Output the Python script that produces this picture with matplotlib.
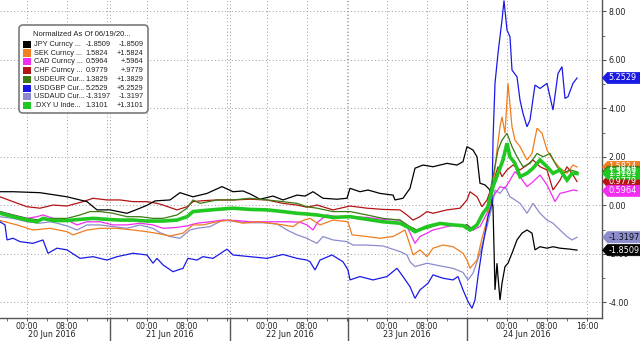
"""Bloomberg-style normalized currency chart, 19-24 Jun 2016 (Brexit vote week)."""
import matplotlib
matplotlib.use("Agg")
import matplotlib.pyplot as plt
from matplotlib import transforms
from matplotlib.patches import FancyBboxPatch, Polygon, Rectangle
from matplotlib.ticker import FixedLocator, FuncFormatter, MultipleLocator

# --- data: hours since 20 Jun 2016 00:00, normalized values -------------------
jpy_h = [-5.4, -2.8, 2.6, 8.0, 12.0, 14.0, 16.6, 20.0, 22.0, 24.0, 25.6, 28.6, 30.6, 33.2,
         36.0, 39.0, 41.2, 43.2, 44.6, 46.6, 49.2, 51.2, 54.0, 55.6, 57.2, 59.2, 62.0, 64.0,
         64.6, 66.6, 68.2, 70.6, 73.2, 73.6, 75.2, 76.6, 77.6, 79.2, 81.2, 84.0, 86.0, 87.2,
         88.0, 89.2, 90.0, 90.6, 91.6, 92.6, 93.2, 93.6, 94.0, 94.2, 94.6, 95.0, 95.6, 96.2,
         97.0, 98.0, 99.0, 100.0, 101.0, 101.6, 102.6, 104.0, 105.2, 106.6, 108.6, 110.0]
jpy_v = [0.56, 0.56, 0.52, 0.35, 0.15, -0.19, -0.19, -0.33, -0.17, 0.00, 0.18, 0.22, 0.52, 0.35,
         0.49, 0.77, 0.56, 0.59, 0.47, 0.25, 0.38, 0.22, 0.42, 0.38, 0.56, 0.29, 0.25, 0.29,
         0.70, 0.56, 0.63, 0.49, 0.42, 0.22, 0.29, 0.70, 1.53, 1.66, 1.59, 1.73, 1.66, 1.80,
         2.42, 2.28, 2.00, 0.91, 0.84, 0.63, -0.06, -3.49, -2.39, -2.94, -3.91, -3.22, -2.53, -2.39,
         -1.98, -1.43, -1.15, -1.02, -1.15, -1.84, -1.71, -1.77, -1.71, -1.77, -1.81, -1.85]

sek_h = [-5.4, -2.0, 1.2, 4.6, 8.0, 9.2, 12.0, 14.6, 18.0, 21.2, 24.0, 26.6, 28.6, 31.2,
         33.2, 35.2, 38.0, 40.6, 43.2, 46.0, 48.6, 51.2, 53.2, 54.6, 55.6, 56.6, 58.6, 61.2,
         64.2, 65.0, 68.0, 70.6, 73.2, 75.6, 76.6, 77.2, 78.6, 80.0, 81.2, 83.2, 85.2, 87.2,
         88.0, 88.6, 90.0, 91.0, 92.0, 93.2, 94.0, 94.6, 95.0, 95.6, 96.2, 97.0, 97.6, 98.6,
         100.0, 101.0, 102.0, 103.0, 104.0, 105.2, 106.6, 108.0, 109.2, 110.0]
sek_v = [-0.63, -0.81, -1.02, -0.95, -1.09, -1.22, -1.02, -0.95, -0.95, -1.02, -1.09, -1.18, -1.27, -1.15,
         -0.81, -0.81, -0.68, -0.61, -0.74, -0.68, -0.74, -0.81, -0.88, -0.68, -0.60, -0.54, -0.81, -0.61,
         -0.68, -1.22, -1.29, -1.36, -1.29, -1.02, -1.64, -2.05, -1.84, -2.12, -1.77, -1.64, -1.71, -1.98,
         -2.26, -2.60, -2.26, -1.36, -0.61, 0.77, 2.28, 3.24, 3.65, 2.97, 5.03, 3.24, 2.69, 2.42,
         1.87, 2.14, 3.18, 2.97, 2.28, 1.87, 1.53, 1.32, 1.66, 1.58]

cad_h = [-5.4, -2.8, 0.0, 2.0, 3.2, 5.2, 8.0, 10.0, 12.0, 14.6, 17.2, 20.0, 22.6, 25.2,
         27.2, 30.0, 32.0, 34.0, 36.6, 39.2, 42.0, 44.6, 47.2, 50.0, 52.6, 54.6, 56.0, 57.2,
         58.2, 60.0, 62.0, 64.6, 68.0, 71.2, 74.6, 76.0, 77.6, 78.6, 80.0, 81.2, 84.0, 86.0,
         87.2, 88.0, 89.2, 90.6, 92.0, 93.2, 94.6, 95.6, 96.6, 97.6, 98.6, 100.0, 101.2, 102.6,
         104.0, 105.6, 106.6, 108.0, 109.2, 110.0]
cad_v = [-0.26, -0.40, -0.54, -0.47, -0.40, -0.54, -0.61, -0.81, -0.68, -0.68, -0.81, -0.81, -0.74, -0.81,
         -0.95, -0.91, -0.85, -0.74, -0.68, -0.61, -0.63, -0.68, -0.68, -0.68, -0.68, -0.70, -0.81, -1.02,
         -0.68, -0.40, -0.47, -0.47, -0.50, -0.58, -0.61, -0.88, -1.57, -1.29, -1.15, -1.02, -0.88, -0.81,
         -0.88, -0.80, -1.02, -0.88, -0.33, 0.35, 0.77, 0.70, 1.04, 1.39, 1.18, 0.77, 0.97, 1.25,
         0.84, 0.15, 0.49, 0.56, 0.63, 0.60]

chf_h = [-5.4, -2.8, 0.0, 2.6, 5.2, 8.0, 11.2, 13.2, 16.0, 18.6, 21.2, 24.0, 26.0, 27.2,
         30.0, 32.0, 33.2, 35.2, 38.0, 41.2, 44.6, 48.0, 51.2, 54.0, 56.0, 58.0, 61.2, 64.6,
         68.0, 71.2, 74.6, 76.0, 77.2, 78.6, 80.0, 81.2, 84.0, 86.6, 88.0, 88.6, 90.0, 91.0,
         92.0, 93.2, 94.2, 95.0, 96.0, 97.2, 98.6, 100.0, 101.2, 102.6, 104.0, 105.2, 106.6, 108.0,
         109.2, 110.0]
chf_v = [0.35, 0.15, -0.06, -0.12, 0.01, -0.03, 0.15, 0.29, 0.22, 0.22, 0.15, 0.15, 0.08, 0.01,
         -0.19, -0.06, 0.15, 0.19, 0.22, 0.22, 0.25, 0.22, 0.08, 0.01, -0.08, 0.01, -0.19, -0.03,
         -0.12, -0.17, -0.19, -0.40, -0.61, -0.47, -0.26, -0.33, -0.19, -0.12, 0.22, 0.56, 0.35, -0.06,
         0.22, 0.91, 1.59, 1.18, 1.46, 1.66, 1.46, 1.66, 1.87, 1.59, 1.46, 0.63, 1.04, 1.59,
         1.25, 0.98]

eur_h = [-5.4, -2.8, 0.0, 2.6, 5.2, 8.0, 10.6, 12.6, 14.6, 17.2, 20.0, 22.6, 25.2, 27.2,
         30.0, 32.0, 33.2, 34.6, 38.0, 41.2, 44.6, 48.0, 51.2, 54.0, 56.0, 58.0, 61.2, 64.6,
         68.0, 71.2, 74.6, 76.6, 78.0, 80.0, 82.6, 85.2, 86.6, 88.0, 89.2, 90.6, 92.0, 93.2,
         94.2, 95.0, 96.0, 97.0, 98.0, 99.2, 100.6, 102.0, 103.2, 104.6, 106.0, 107.2, 108.6, 110.0]
eur_v = [-0.26, -0.40, -0.54, -0.61, -0.54, -0.54, -0.40, -0.26, -0.26, -0.33, -0.47, -0.47, -0.54, -0.54,
         -0.40, -0.12, 0.22, 0.08, 0.22, 0.22, 0.29, 0.22, 0.15, 0.08, -0.06, -0.12, -0.26, -0.26,
         -0.40, -0.54, -0.61, -0.88, -1.02, -0.95, -0.78, -0.81, -0.88, -0.80, -1.02, -0.61, -0.06, 1.18,
         2.28, 2.69, 2.97, 2.42, 2.00, 1.59, 1.73, 2.14, 2.00, 2.14, 1.59, 1.32, 1.46, 1.38]

gbp_h = [-5.4, -4.4, -4.0, -2.8, -1.4, 1.2, 3.2, 4.2, 6.0, 8.0, 10.6, 13.2, 16.0, 18.0,
         21.2, 24.0, 25.2, 26.0, 27.2, 29.2, 31.2, 32.2, 34.0, 35.2, 37.2, 40.0, 41.2, 44.6,
         48.0, 51.2, 54.0, 56.0, 56.6, 57.6, 58.6, 61.0, 63.2, 64.2, 64.6, 66.6, 69.2, 72.0,
         74.0, 75.2, 76.6, 77.6, 78.6, 80.2, 81.2, 83.2, 85.2, 86.2, 87.2, 88.2, 89.0, 89.6,
         90.2, 91.0, 91.6, 92.2, 93.0, 93.2, 93.6, 94.2, 95.0, 95.4, 96.0, 96.6, 97.0, 98.0,
         98.6, 99.2, 100.0, 100.6, 101.6, 102.6, 104.0, 105.2, 106.2, 107.0, 107.6, 108.2, 109.2, 110.0]
gbp_v = [-0.68, -0.81, -1.43, -1.36, -1.50, -1.57, -1.43, -1.98, -1.77, -1.84, -2.19, -2.12, -2.26, -2.12,
         -1.98, -2.05, -2.39, -2.19, -2.46, -2.74, -2.60, -2.19, -2.26, -2.12, -2.19, -1.81, -2.05, -2.12,
         -2.19, -2.03, -2.19, -2.26, -2.33, -2.67, -2.26, -2.05, -2.33, -2.67, -3.08, -2.94, -3.08, -2.94,
         -2.60, -2.94, -3.36, -3.84, -3.49, -3.22, -2.87, -3.01, -3.08, -2.94, -3.49, -3.97, -4.25, -3.91,
         -2.94, -1.84, -1.15, -0.47, 0.08, 2.69, 5.03, 6.27, 7.64, 8.45, 7.23, 6.95, 5.58, 5.30,
         4.34, 3.79, 3.24, 3.52, 4.96, 4.82, 5.03, 3.93, 5.44, 5.72, 4.41, 4.48, 5.03, 5.25]

aud_h = [-5.4, -2.8, 0.0, 2.6, 4.6, 6.0, 8.0, 10.0, 12.0, 14.6, 17.2, 20.0, 22.6, 25.2,
         26.6, 28.6, 30.6, 32.6, 34.0, 36.6, 39.2, 42.0, 44.6, 47.2, 50.0, 52.0, 54.0, 56.0,
         56.6, 58.0, 59.2, 61.2, 64.0, 65.2, 68.0, 71.2, 74.6, 76.0, 76.6, 77.6, 80.0, 82.6,
         85.2, 87.2, 88.2, 89.2, 90.6, 92.0, 93.0, 93.6, 94.6, 95.6, 96.6, 97.6, 98.6, 100.0,
         101.2, 102.6, 104.0, 105.2, 106.6, 108.0, 109.0, 110.0]
aud_v = [-0.47, -0.54, -0.68, -0.74, -0.68, -0.74, -0.85, -1.02, -0.81, -0.81, -0.88, -0.95, -0.81, -0.95,
         -1.13, -1.29, -1.36, -1.02, -0.95, -0.88, -0.61, -0.68, -0.72, -0.72, -0.77, -1.02, -1.22, -1.36,
         -1.43, -1.57, -1.29, -1.43, -1.50, -1.64, -1.64, -1.68, -1.91, -2.05, -2.33, -2.53, -2.39, -2.50,
         -2.60, -2.77, -3.08, -2.80, -1.98, -0.88, -0.06, 0.63, 0.49, 0.77, 0.35, 0.22, 0.08, -0.33,
         0.08, -0.33, -0.61, -0.74, -1.02, -1.29, -1.43, -1.32]

dxy_h = [-5.4, -2.8, 0.0, 2.0, 3.2, 5.2, 8.0, 10.6, 13.2, 16.0, 18.6, 21.2, 24.0, 27.2,
         30.0, 32.0, 33.2, 35.2, 38.0, 41.2, 44.6, 48.0, 51.2, 54.0, 56.0, 58.0, 61.2, 64.6,
         68.0, 71.2, 74.6, 76.6, 77.6, 80.0, 82.6, 85.2, 87.2, 88.6, 90.0, 91.2, 92.2, 93.2,
         94.2, 95.2, 96.0, 96.6, 97.6, 98.6, 100.0, 101.2, 102.6, 104.0, 105.2, 106.6, 108.0, 109.0, 110.0]
dxy_v = [-0.33, -0.47, -0.61, -0.68, -0.54, -0.63, -0.63, -0.58, -0.54, -0.58, -0.61, -0.61, -0.65, -0.65,
         -0.61, -0.47, -0.26, -0.22, -0.17, -0.12, -0.17, -0.19, -0.26, -0.33, -0.36, -0.40, -0.50, -0.47,
         -0.58, -0.68, -0.74, -0.95, -1.09, -0.88, -0.75, -0.81, -0.84, -1.02, -0.81, -0.33, -0.06, 0.77,
         1.32, 1.87, 2.56, 2.00, 1.73, 1.18, 1.32, 1.53, 1.87, 1.59, 1.32, 1.46, 1.04, 1.32, 1.31]

legend_names = ["JPY Curncy ...", "SEK Curncy ...", "CAD Curncy ...", "CHF Curncy ...",
                "USDEUR Cur...", "USDGBP Cur...", "USDAUD Cur...", ".DXY U Inde..."]
last_values = [-1.8509, 1.5824, 0.5964, 0.9779, 1.3829, 5.2529, -1.3197, 1.3101]
colors = ["#000000", "#F07D1E", "#F22CF2", "#B41414", "#3C7A14", "#1A1AE6", "#8C8CCC", "#22C822"]

day_labels = ["20 Jun 2016", "21 Jun 2016", "22 Jun 2016", "23 Jun 2016", "24 Jun 2016"]
day_label_h = [5.0, 28.6, 52.6, 76.0, 100.0]
separator_h = [16.6, 40.6, 64.2, 88.0]

series = [(jpy_h, jpy_v), (sek_h, sek_v), (cad_h, cad_v), (chf_h, chf_v),
          (eur_h, eur_v), (gbp_h, gbp_v), (aud_h, aud_v), (dxy_h, dxy_v)]

plt.rcParams["font.family"] = ["DejaVu Sans"]
LEG_FONT = ["Liberation Sans", "DejaVu Sans"]
W, H = 6.4, 3.41
fig = plt.figure(figsize=(W, H), dpi=100)
ax_bottom = (341 - 317.5) / 341
ax = fig.add_axes([0.0, ax_bottom, 602 / 640, 1 - ax_bottom])
ax.set_xlim(-5.4, 115.0)
ax.set_ylim(-4.63, 8.47)

# draw order: lavender, magenta, red, orange, black, blue, dark green, DXY
order = [6, 2, 3, 1, 0, 5, 4, 7]
for i in order:
    h, v = series[i]
    ax.plot(h, v, color=colors[i], lw=2.6 if i == 7 else 0.9, solid_joinstyle="miter",
            zorder=3 + order.index(i))

# grid
dot = (0, (1, 2.5))
for y in range(-4, 9, 2):
    ax.axhline(y, color="#9a9a9a", lw=0.7, ls=dot, zorder=1)
for hh in list(range(0, 113, 8)) + separator_h:
    ax.axvline(hh, color="#9a9a9a", lw=0.7, ls=dot, zorder=1)

for s in ("top", "left"):
    ax.spines[s].set_visible(False)
for s in ("right", "bottom"):
    ax.spines[s].set_color("#555555")
    ax.spines[s].set_linewidth(1.0)

# y axis on right
ax.yaxis.tick_right()
ax.yaxis.set_major_locator(MultipleLocator(2))
ax.yaxis.set_minor_locator(MultipleLocator(1))
ax.yaxis.set_major_formatter(FuncFormatter(lambda v, _: f"{v:.2f}"))
ax.tick_params(axis="y", which="both", direction="out", colors="#555555", labelcolor="#222222",
               labelsize=5.7, pad=1.5)
ax.tick_params(axis="y", which="major", length=3, width=0.8)
ax.tick_params(axis="y", which="minor", length=2, width=0.6)

# x axis: hour ticks
major_h = list(range(0, 113, 8))


def hour_label(hh, _):
    hh = int(round(hh))
    if hh % 24 == 0:
        return "00:00"
    if hh % 24 == 8:
        return "08:00"
    if hh == 112:
        return "16:00"
    return ""


ax.xaxis.set_major_locator(FixedLocator(major_h))
ax.xaxis.set_minor_locator(MultipleLocator(4))
ax.xaxis.set_major_formatter(FuncFormatter(hour_label))
ax.tick_params(axis="x", which="both", direction="out", colors="#555555", labelcolor="#222222",
               labelsize=5.7, pad=1.0)
ax.tick_params(axis="x", which="major", length=2.5, width=0.7)
ax.tick_params(axis="x", which="minor", length=2, width=0.6)

xtr = ax.get_xaxis_transform()
for lab, hh in zip(day_labels, day_label_h):
    ax.text(hh, -0.055, lab, transform=xtr, ha="center", va="center", fontsize=5.8, color="#222222")
for hh in separator_h:
    ax.plot([hh, hh], [0, -0.08], transform=xtr, color="#555555", lw=1.0, clip_on=False)

# value tags on the right (overlapping, as in the terminal)
inch = fig.dpi_scale_trans
tag_tr = transforms.blended_transform_factory(inch, ax.transData)
data_per_inch = (8.47 + 4.63) / ((1 - ax_bottom) * H)
half = 0.056 * data_per_inch
tag_order = [1, 4, 3, 7, 2, 6, 0, 5]
for i in tag_order:
    v = last_values[i]
    poly = Polygon([(6.025, v), (6.075, v + half), (6.40, v + half), (6.40, v - half), (6.075, v - half)],
                   closed=True, transform=tag_tr, fc=colors[i], ec=colors[i], lw=0.5, clip_on=False)
    fig.add_artist(poly)
    tcol = "#111111" if i == 6 else "white"
    fig.text(6.085, v, f"{v:.4f}", transform=tag_tr, ha="left", va="center", fontsize=5.9, color=tcol)

# legend box
box = FancyBboxPatch((0.19, (341 - 113) / 100), 1.29, 0.88,
                     boxstyle="round,pad=0,rounding_size=0.04", transform=inch,
                     fc="white", ec="#7a7a7a", lw=1.2, zorder=10)
fig.add_artist(box)
fig.text(0.333, (341 - 35) / 100, "Normalized As Of 06/19/20...", transform=inch, family=LEG_FONT,
         fontsize=5.5, color="#222222", va="center", ha="left", zorder=11)


def change_str(v):
    sign = "-" if v < 0 else "+"
    s = f"{abs(v):.4f}"
    if abs(v) < 1:
        s = s[1:]
    return sign + s


row0 = 44.3
row_step = 8.76
for k, (name, val, col) in enumerate(zip(legend_names, last_values, colors)):
    py = row0 + k * row_step
    yi = (341 - py) / 100
    fig.add_artist(Rectangle((0.233, yi - 0.036), 0.074, 0.072, transform=inch,
                             fc=col, ec="none", zorder=11))
    fig.text(0.343, yi, name, transform=inch, family=LEG_FONT, fontsize=5.3, color="#222222",
             va="center", ha="left", zorder=11)
    fig.text(0.853, yi, f"{val:.4f}", transform=inch, family=LEG_FONT, fontsize=5.3, color="#222222",
             va="center", ha="left", zorder=11)
    fig.text(1.433, yi, change_str(val), transform=inch, family=LEG_FONT, fontsize=5.3, color="#222222",
             va="center", ha="right", zorder=11)

fig.savefig("out.png", dpi=100)
